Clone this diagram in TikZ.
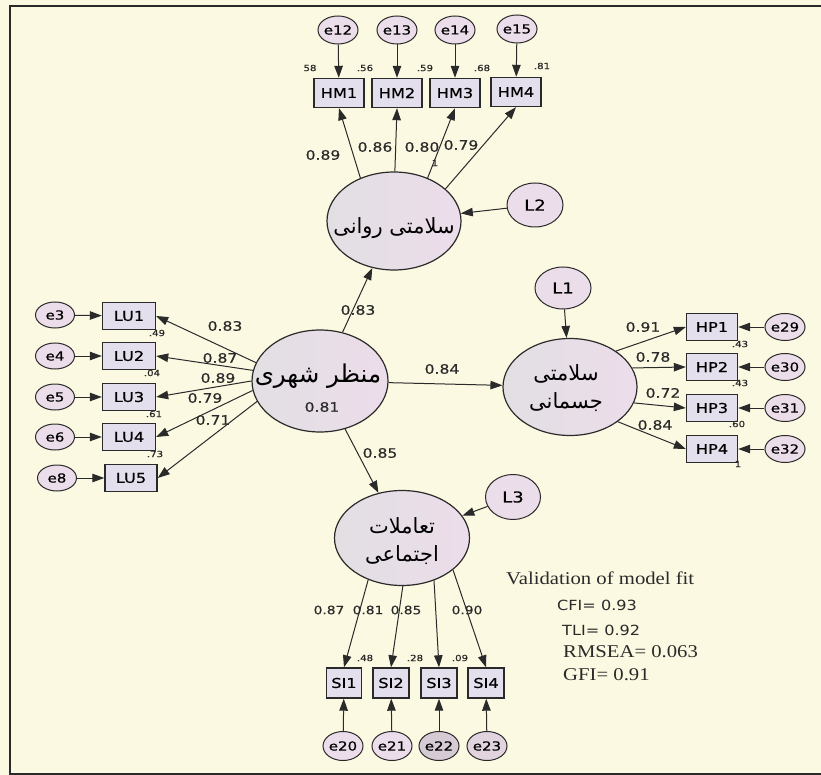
\documentclass[tikz,border=0pt]{standalone}
\usepackage{fontspec}
\usepackage{graphicx}
\usetikzlibrary{arrows.meta,shapes.geometric}
\TeXXeTstate=1
\newfontfamily\lab[FakeStretch=1.2,FakeBold=0.5]{DejaVu Sans}
\newfontfamily\labn[FakeStretch=1.15]{DejaVu Sans}
\newfontfamily\fa[Script=Arabic]{DejaVu Sans}
\newfontfamily\tms[FakeStretch=1.15]{Liberation Serif}
\definecolor{bg}{HTML}{FCF9E2}
\definecolor{cfill}{HTML}{ECDDEA}
\definecolor{cshade}{HTML}{E2DFE3}
\definecolor{bfill}{HTML}{E4DFEC}
\definecolor{ink}{HTML}{2A2A2A}
\begin{document}
\begin{tikzpicture}[x=1pt,y=-1pt,
  errc/.style={ellipse, draw=ink, line width=1pt, fill=cfill, minimum width=37pt, minimum height=28pt, inner sep=0pt, font=\lab\fontsize{12.5}{14}\selectfont},
  resid/.style={ellipse, draw=ink, line width=1pt, fill=cfill, minimum width=56pt, minimum height=44pt, inner sep=0pt, font=\lab\fontsize{15}{17}\selectfont},
  obsbox/.style={rectangle, draw=ink, line width=1.4pt, fill=bfill, minimum width=50pt, minimum height=29pt, inner sep=0pt, font=\lab\fontsize{13.5}{15}\selectfont},
  latent/.style={ellipse, draw=ink, line width=1.2pt, left color=cshade, right color=cfill, inner sep=0pt, minimum width=134pt, minimum height=98pt},
  fatext/.style={font=\fa\fontsize{21}{28}\selectfont, align=center, inner sep=0pt},
  load/.style={font=\lab\fontsize{13}{15}\selectfont, text=ink, inner sep=0pt},
  loadsm/.style={font=\lab\fontsize{11.5}{13}\selectfont, text=ink, inner sep=0pt},
  sm/.style={font=\lab\fontsize{8.5}{9}\selectfont, text=ink, inner sep=0pt},
  fitsans/.style={font=\labn\fontsize{14}{16}\selectfont, text=ink, inner sep=0pt, anchor=west},
  fitserif/.style={font=\tms\fontsize{18}{20}\selectfont, text=ink, inner sep=0pt, anchor=west},
  arr/.style={-{Triangle[length=12pt,width=8.5pt]}, line width=1pt, draw=ink}
]
\useasboundingbox (0,0) rectangle (821,775);
\fill[bg] (0,0) rectangle (821,775);
\draw[line width=1.6pt, draw=ink] (821,6) -- (10,6) -- (10,774) -- (821,774);

% latent variables
\node[latent] (HMlat) at (394,221) {};
\node[fatext] (HMtxt) at (394,228) {\beginR سلامتی روانی\endR};
\node[latent, minimum width=136pt, minimum height=102pt] (C) at (320,381) {};
\node[fatext, font=\fa\fontsize{24.5}{28}\selectfont] (Ctxt) at (318,376) {\beginR منظر شهری\endR};
\node[load] (C81) at (322,407) {0.81};
\node[latent, minimum height=97pt] (HPlat) at (570,387) {};
\node[fatext] (HPtxt) at (566,388) {\beginR سلامتی\endR\\\beginR جسمانی\endR};
\node[latent, minimum width=135pt, minimum height=95pt] (SIlat) at (402,538) {};
\node[fatext] (SItxt) at (402,541) {\beginR تعاملات\endR\\\beginR اجتماعی\endR};

% residuals
\node[resid] (L2) at (535,205) {L2};
\node[resid, minimum height=42pt] (L1) at (563,288) {L1};
\node[resid, minimum width=55pt, minimum height=45pt] (L3) at (513,497) {L3};

% HM block
\node[obsbox] (HM1) at (339,93) {HM1};
\node[obsbox] (HM2) at (397,93) {HM2};
\node[obsbox] (HM3) at (455,93) {HM3};
\node[obsbox] (HM4) at (516,92) {HM4};
\node[errc] (e12) at (338,30) {e12};
\node[errc] (e13) at (397,30) {e13};
\node[errc] (e14) at (455,30) {e14};
\node[errc] (e15) at (517,29) {e15};

% LU block
\node[obsbox, minimum width=53pt, minimum height=27pt] (LU1) at (129,316) {LU1};
\node[obsbox, minimum width=53pt, minimum height=27pt] (LU2) at (129,356) {LU2};
\node[obsbox, minimum width=53pt, minimum height=27pt] (LU3) at (129,397) {LU3};
\node[obsbox, minimum width=53pt, minimum height=27pt] (LU4) at (129,437) {LU4};
\node[obsbox, minimum width=52pt, minimum height=27pt] (LU5) at (131,478) {LU5};
\node[errc, minimum width=39pt, minimum height=26pt] (e3) at (55,315) {e3};
\node[errc, minimum width=39pt, minimum height=26pt] (e4) at (55,356) {e4};
\node[errc, minimum width=39pt, minimum height=26pt] (e5) at (55,397) {e5};
\node[errc, minimum width=39pt, minimum height=26pt] (e6) at (55,437) {e6};
\node[errc, minimum width=39pt, minimum height=26pt] (e8) at (57,478) {e8};

% HP block
\node[obsbox, minimum width=51pt, minimum height=27pt] (HP1) at (712,327) {HP1};
\node[obsbox, minimum width=51pt, minimum height=27pt] (HP2) at (712,367) {HP2};
\node[obsbox, minimum width=51pt, minimum height=27pt] (HP3) at (712,408) {HP3};
\node[obsbox, minimum width=51pt, minimum height=27pt] (HP4) at (712,449) {HP4};
\node[errc, minimum width=36pt, minimum height=27pt] (e29) at (785,327) {e29};
\node[errc, minimum width=36pt, minimum height=27pt] (e30) at (785,367) {e30};
\node[errc, minimum width=36pt, minimum height=27pt] (e31) at (785,408) {e31};
\node[errc, minimum width=36pt, minimum height=27pt] (e32) at (785,449) {e32};

% SI block
\node[obsbox, minimum width=35pt, minimum height=30pt] (SI1) at (344,683) {SI1};
\node[obsbox, minimum width=36pt, minimum height=30pt] (SI2) at (391,683) {SI2};
\node[obsbox, minimum width=36pt, minimum height=30pt] (SI3) at (439,683) {SI3};
\node[obsbox, minimum width=36pt, minimum height=30pt] (SI4) at (486,683) {SI4};
\node[errc, minimum height=29pt] (e20) at (343,746) {e20};
\node[errc, minimum height=29pt] (e21) at (392,746) {e21};
\node[errc, minimum height=29pt, fill=cfill!80!gray] (e22) at (439,746) {e22};
\node[errc, minimum height=29pt, fill=cfill!90!gray] (e23) at (487,746) {e23};

% connectors
\foreach \e/\b in {e12/HM1,e13/HM2,e14/HM3,e15/HM4,e3/LU1,e4/LU2,e5/LU3,e6/LU4,e8/LU5,e29/HP1,e30/HP2,e31/HP3,e32/HP4,e20/SI1,e21/SI2,e22/SI3,e23/SI4}
  \draw[arr] (\e) -- (\b);
\foreach \a/\b in {128/HM1,89/HM2,52/HM3,32/HM4}
  \draw[arr] (HMlat.\a) -- (\b.south);
\foreach \a/\b in {231/SI1,271/SI2,307/SI3,328/SI4}
  \draw[arr] (SIlat.\a) -- (\b.north);
\foreach \a/\b in {38/HP1,17/HP2,346/HP3,324/HP4}
  \draw[arr] (HPlat.\a) -- (\b.west);
\foreach \a/\b in {164/LU1,171/LU2,180/LU3,188/LU4,198/LU5}
  \draw[arr] (C.\a) -- (\b.east);
\draw[arr] (C) -- (HMlat);
\draw[arr] (C) -- (HPlat);
\draw[arr] (C) -- (SIlat);
\draw[arr] (L2) -- (HMlat);
\draw[arr] (L1) -- (HPlat);
\draw[arr] (L3) -- (SIlat);

% loadings
\node[load] (lhm1) at (323,155) {0.89};
\node[load] (lhm2) at (375,147) {0.86};
\node[load] (lhm3) at (422,147) {0.80};
\node[load] (lhm4) at (461,145) {0.79};
\node[load] (llu1) at (225,326) {0.83};
\node[load] (llu2) at (220,358) {0.87};
\node[load] (llu3) at (218,378) {0.89};
\node[load] (llu4) at (205,398) {0.79};
\node[load] (llu5) at (213,420) {0.71};
\node[load] (lhp1) at (643,327) {0.91};
\node[load] (lhp2) at (653,357) {0.78};
\node[load] (lhp3) at (663,393) {0.72};
\node[load] (lhp4) at (655,425) {0.84};
\node[loadsm] (lsi1) at (329,610) {0.87};
\node[loadsm] (lsi2) at (368,610) {0.81};
\node[loadsm] (lsi3) at (406,610) {0.85};
\node[loadsm] (lsi4) at (467,610) {0.90};
\node[load] (lc1) at (358,310) {0.83};
\node[load] (lc2) at (442,369) {0.84};
\node[load] (lc3) at (380,453) {0.85};

% squared multiple correlations
\node[sm] (r1) at (310,68) {58};
\node[sm] (r2) at (365,68) {.56};
\node[sm] (r3) at (425,68) {.59};
\node[sm] (r4) at (482,68) {.68};
\node[sm] (r5) at (542,66) {.81};
\node[sm] (r6) at (157,333) {.49};
\node[sm] (r7) at (152,373) {.04};
\node[sm] (r8) at (154,414) {.61};
\node[sm] (r9) at (155,454) {.73};
\node[sm] (r10) at (740,344) {.43};
\node[sm] (r11) at (740,383) {.43};
\node[sm] (r12) at (737,424) {.60};
\node[sm] (r13) at (365,658) {.48};
\node[sm] (r14) at (415,658) {.28};
\node[sm] (r15) at (460,658) {.09};
\node[sm] (r16) at (435,163) {1};
\node[sm] (r17) at (738,464) {1};

% fit indices
\node[fitserif] (fit0) at (506,578) {Validation of model fit};
\node[fitsans] (fit1) at (557,605) {CFI= 0.93};
\node[fitsans] (fit2) at (562,630) {TLI= 0.92};
\node[fitserif] (fit3) at (563,652) {RMSEA= 0.063};
\node[fitserif] (fit4) at (563,675) {GFI= 0.91};
\end{tikzpicture}
\end{document}
